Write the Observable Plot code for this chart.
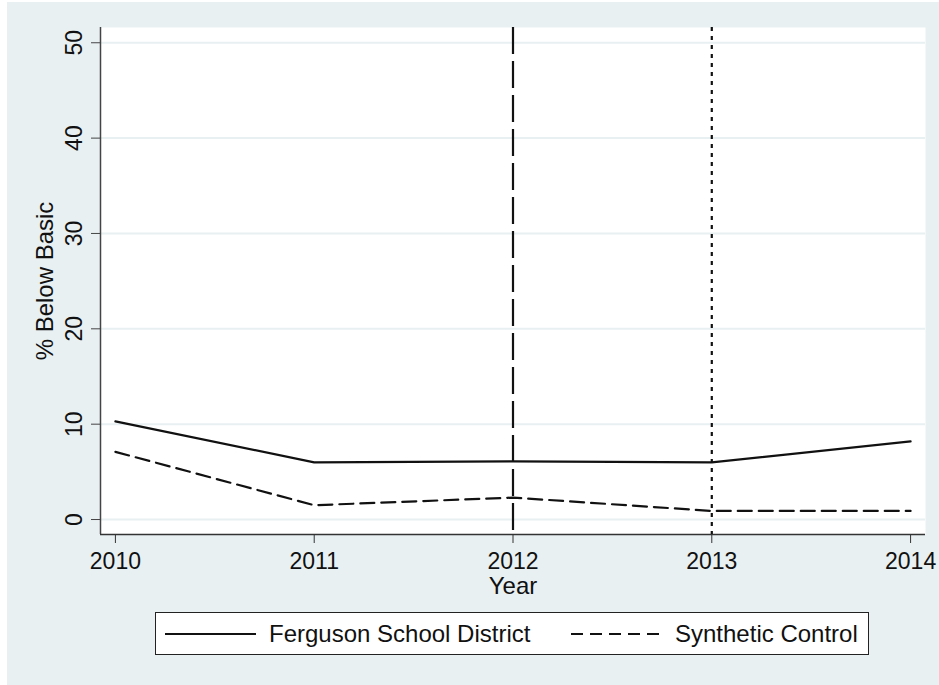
<!DOCTYPE html>
<html>
<head>
<meta charset="utf-8">
<script src="https://cdn.jsdelivr.net/npm/d3@7"></script>
<script src="https://cdn.jsdelivr.net/npm/@observablehq/plot@0.6"></script>
<style>
  html, body { margin: 0; padding: 0; background: #ffffff; }
  #wrap { position: absolute; left: 7px; top: 2px; width: 932px; height: 683px; background: #e8f0f2; font-family: "Liberation Sans", Arial, sans-serif; }
  #legend { position: absolute; left: 148px; top: 610px; width: 712px; height: 41px; background: #ffffff; border: 1px solid #222; }
  #legend span { position: absolute; top: 7px; font-size: 24px; color: #111; white-space: nowrap; }
  #legend svg { position: absolute; top: 0; left: 0; }
</style>
</head>
<body>
<div id="wrap"><div id="chart"></div>
<div id="legend">
  <svg width="712" height="41">
    <line x1="9" x2="100" y1="21" y2="21" stroke="#111" stroke-width="2"/>
    <line x1="415" x2="504" y1="21" y2="21" stroke="#111" stroke-width="2" stroke-dasharray="12,7"/>
  </svg>
  <span style="left:113px">Ferguson School District</span>
  <span style="left:519px">Synthetic Control</span>
</div>
</div>
<script>
const years = [2010, 2011, 2012, 2013, 2014];
const ferguson = [10.3, 6.0, 6.1, 6.0, 8.2];
const synthetic = [7.1, 1.5, 2.3, 0.9, 0.9];
const yTicks = [0, 10, 20, 30, 40, 50];
const xDomain = [2009.925, 2014.075];
const yDomain = [-1.57, 51.6];

const fergData = years.map((y, i) => ({year: y, value: ferguson[i]}));
const synData = years.map((y, i) => ({year: y, value: synthetic[i]}));

const chart = Plot.plot({
  width: 932,
  height: 603,
  marginLeft: 93,
  marginRight: 14,
  marginTop: 25,
  marginBottom: 71,
  style: {background: "transparent", fontFamily: "'Liberation Sans', Arial, sans-serif", color: "#111"},
  x: {domain: xDomain, axis: null},
  y: {domain: yDomain, axis: null},
  marks: [
    Plot.frame({fill: "white", stroke: "none"}),
    Plot.ruleY(yTicks, {stroke: "#e8f0f2", strokeWidth: 2}),
    Plot.axisY(yTicks, {tickSize: 9, fill: "none", stroke: "#444", label: null}),
    Plot.text(yTicks, {y: d => d, text: d => String(d), frameAnchor: "left", dx: -26, rotate: -90, textAnchor: "middle", lineAnchor: "middle", fontSize: 23, fill: "#111"}),
    Plot.axisX(years, {tickSize: 9, fill: "none", stroke: "#333", label: null}),
    Plot.text(years, {x: d => d, text: d => String(d), frameAnchor: "bottom", dy: 27, lineAnchor: "middle", fontSize: 23, fill: "#111"}),
    Plot.text(["Year"], {text: d => d, frameAnchor: "bottom", dy: 52, lineAnchor: "middle", fontSize: 24, fill: "#111"}),
    Plot.text(["% Below Basic"], {text: d => d, frameAnchor: "left", dx: -55, rotate: -90, textAnchor: "middle", lineAnchor: "middle", fontSize: 24, fill: "#111"}),
    Plot.ruleX([xDomain[0]], {stroke: "#444", strokeWidth: 1.5}),
    Plot.ruleY([yDomain[0]], {stroke: "#333", strokeWidth: 1.5}),
    Plot.ruleX([2012], {stroke: "#111", strokeWidth: 2.2, strokeDasharray: "27,7"}),
    Plot.ruleX([2013], {stroke: "#111", strokeWidth: 2.2, strokeDasharray: "4,5"}),
    Plot.line(fergData, {x: "year", y: "value", stroke: "#111", strokeWidth: 2.2}),
    Plot.line(synData, {x: "year", y: "value", stroke: "#111", strokeWidth: 2.2, strokeDasharray: "14,7"})
  ]
});
document.getElementById("chart").appendChild(chart);
</script>
</body>
</html>
